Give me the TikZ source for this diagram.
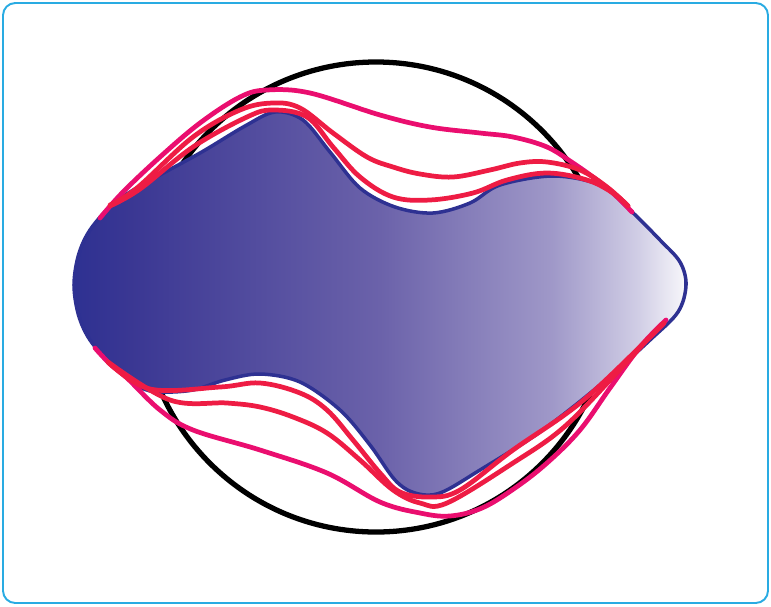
\documentclass[tikz,border=0pt]{standalone}
\usepackage{tikz}
\usetikzlibrary{calc}

\definecolor{frameblue}{HTML}{29ABE2}
\definecolor{blobblue}{HTML}{2E3192}
\definecolor{bloba}{HTML}{3A3793}
\definecolor{blobb}{HTML}{6B62AA}
\definecolor{blobc}{HTML}{9F98C8}
\definecolor{blobd}{HTML}{D0CDE5}
\definecolor{blobe}{HTML}{F3F2F8}
\definecolor{curvepink}{HTML}{EA0E6F}
\definecolor{curvered}{HTML}{EE1C44}

\pgfdeclarehorizontalshading{blobshade}{100bp}{color(0bp)=(blobblue); color(25bp)=(blobblue);
  color(29.6bp)=(bloba); color(50bp)=(blobb); color(64bp)=(blobc); color(71bp)=(blobd);
  color(74.5bp)=(blobe); color(75bp)=(white); color(100bp)=(white)}

\begin{document}
\begin{tikzpicture}[
  x=0.02cm, y=-0.02cm,
  frame/.style={draw=frameblue, line width=1.1pt, rounded corners=7pt},
  ring/.style={draw=black, line width=3pt},
  blob/.style={draw=blobblue, line width=2pt, shading=blobshade},
  outer/.style={draw=curvepink, line width=2.7pt, line cap=round},
  inner/.style={draw=curvered, line width=2.7pt, line cap=round},
]
  \useasboundingbox (0,0) rectangle (771,606);
  \draw[frame] (3,3) rectangle (768,603);

  % Circle behind the shape
  \draw[ring] (376,297) circle[radius=235];

  % Shaded shape
  \path[blob] plot[smooth cycle, tension=0.55] coordinates {
    (74,285) (78.5,255) (90,230) (112,205) (140,186) (200,153) (245,126) (275,112)
    (303,120) (330,152) (360,188) (395,207) (433,213) (470,203) (500,185)
    (553,176) (600,185) (630,210) (660,240) (680,262) (686,285) (678,312)
    (650,340) (600,385) (540,432) (480,470) (440,493) (415,493) (395,480)
    (370,445) (340,410) (300,382) (260,374) (225,380) (193,390) (160,392)
    (140,387) (112,365) (90,340) (78.5,315)};

  % Upper curves
  \draw[outer] plot[smooth, tension=0.6] coordinates {
    (100,218) (123,192) (160,157) (200,123) (240,97) (267,90) (310,93)
    (380,115) (430,127) (480,133) (513,137) (547,147) (573,163) (597,180)
    (615,195) (632,212)};
  \draw[inner] plot[smooth, tension=0.6] coordinates {
    (110,205) (137,188) (193,137) (240,110) (273,103) (300,108) (333,133)
    (367,157) (393,167) (420,174) (453,177) (490,170) (520,163) (547,162)
    (580,170) (607,187) (628,206)};
  \draw[inner] plot[smooth, tension=0.6] coordinates {
    (110,206) (140,189) (193,147) (247,117) (273,110) (307,117) (333,147)
    (360,177) (393,197) (430,200) (473,193) (507,180) (547,173) (587,180)
    (613,193) (628,206)};

  % Lower curves
  \draw[outer] plot[smooth, tension=0.6] coordinates {
    (95,348) (110,364) (127,378) (160,410) (193,430) (260,450) (327,473)
    (380,502) (420,513) (450,516) (482,508) (515,488) (547,463) (580,430)
    (610,388) (640,347) (666,320)};
  \draw[inner] plot[smooth, tension=0.6] coordinates {
    (108,362) (150,389) (220,387) (260,383) (300,393) (327,410) (353,440)
    (380,473) (400,492) (430,497) (460,490) (513,450) (580,403) (647,340)
    (664,323)};
  \draw[inner] plot[smooth, tension=0.6] coordinates {
    (108,362) (170,400) (227,403) (260,407) (293,417) (327,433) (360,460)
    (393,490) (420,503) (447,503) (513,463) (563,428) (613,377) (647,340)
    (664,323)};
\end{tikzpicture}
\end{document}
